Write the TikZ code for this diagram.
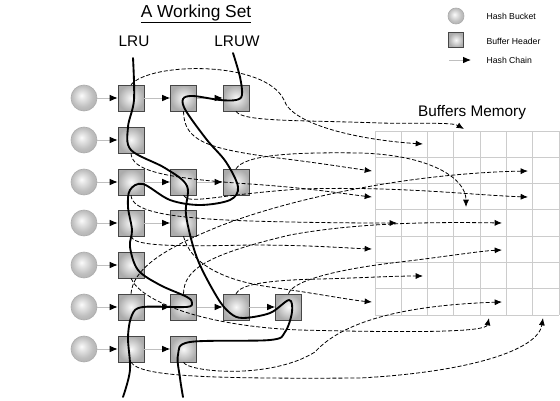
\documentclass[tikz,border=0pt]{standalone}
\usepackage{fontspec}
\setmainfont{Liberation Sans}
\usetikzlibrary{arrows.meta,positioning}

\pgfdeclareradialshading{bucketshade}{\pgfpoint{-5bp}{5bp}}{color(0bp)=(gray!3); color(7bp)=(gray!20); color(20bp)=(gray!50); color(30bp)=(gray!62); color(50bp)=(gray!62)}
\tikzset{
  bucket/.style={circle, minimum size=19.5pt, inner sep=0pt, draw=gray!65, line width=0.5pt, shading=bucketshade},
  header/.style={rectangle, minimum size=19.5pt, inner sep=0pt, draw=gray!55!black, shading=radial, inner color=gray!5, outer color=gray!65},
  chain/.style={draw=gray!50, line width=0.7pt, -{Latex[length=6pt,width=5pt,color=black]}},
  link/.style={dash pattern=on 3pt off 1.5pt, line width=0.6pt, -{Latex[length=5.5pt,width=4.5pt]}},
  walk/.style={line width=1.4pt, line cap=round},
  gridline/.style={draw=gray!40, line width=0.7pt},
}

\begin{document}
\begin{tikzpicture}[x=0.75pt, y=-0.75pt]
\useasboundingbox (0,0) rectangle (560,400);

% titles
\node (title) at (196,14) {\fontsize{13}{15}\selectfont\underline{A Working Set}};
\node (lrulbl) at (134,41) {\fontsize{11.5}{13}\selectfont LRU};
\node (lruwlbl) at (237,41) {\fontsize{11.5}{13}\selectfont LRUW};
\node (memlbl) at (472,113) {\fontsize{11.5}{13}\selectfont Buffers Memory};

% legend
\node[bucket, minimum size=12pt] (legb) at (456,16) {};
\node[header, minimum size=11pt] (legh) at (456,40) {};
\coordinate (lega) at (449,60);
\coordinate (legz) at (471,60);
\draw[chain] (lega) -- (legz);
\node[anchor=west, inner sep=1pt, font=\fontsize{6.5}{8}\selectfont] (legbt) at (485,16) {Hash Bucket};
\node[anchor=west, inner sep=1pt, font=\fontsize{6.5}{8}\selectfont] (leght) at (485,41) {Buffer Header};
\node[anchor=west, inner sep=1pt, font=\fontsize{6.5}{8}\selectfont] (legat) at (485,60) {Hash Chain};

% buffers memory
\foreach \i in {0,...,7} {
  \draw[gridline] (375+\i*26.3,131) -- (375+\i*26.3,315);
  \draw[gridline] (375,131+\i*26.3) -- (559,131+\i*26.3);
}

% hash buckets
\foreach \r/\y in {1/98,2/140,3/182,4/223,5/265,6/307,7/349}
  \node[bucket] (b\r) at (84,\y) {};

% buffer headers
\node[header] (h11) at (131,98) {};
\node[header] (h12) at (183.5,98) {};
\node[header] (h13) at (236,98) {};
\node[header] (h21) at (131,140) {};
\node[header] (h31) at (131,182) {};
\node[header] (h32) at (183.5,182) {};
\node[header] (h33) at (236,182) {};
\node[header] (h41) at (131,223) {};
\node[header] (h42) at (183.5,223) {};
\node[header] (h51) at (131,265) {};
\node[header] (h61) at (131,307) {};
\node[header] (h62) at (183.5,307) {};
\node[header] (h63) at (236,307) {};
\node[header] (h64) at (288.5,307) {};
\node[header] (h71) at (131,349) {};
\node[header] (h72) at (183.5,349) {};

% hash chains
\foreach \r in {1,...,7}
  \draw[chain] (b\r) -- (h\r1);
\draw[chain] (h11) -- (h12);
\draw[chain] (h12) -- (h13);
\draw[chain] (h31) -- (h32);
\draw[chain] (h32) -- (h33);
\draw[chain] (h41) -- (h42);
\draw[chain] (h61) -- (h62);
\draw[chain] (h62) -- (h63);
\draw[chain] (h63) -- (h64);
\draw[chain] (h71) -- (h72);

% buffers pointed to
\coordinate (m1) at (464,129);
\coordinate (m2) at (423,144);
\coordinate (m3) at (372,171);
\coordinate (m4) at (528,171);
\coordinate (m5) at (372,197);
\coordinate (m6) at (528,197);
\coordinate (m7) at (466,207);
\coordinate (m8) at (397,223);
\coordinate (m9) at (502,223);
\coordinate (m10) at (372,249);
\coordinate (m11) at (502,250);
\coordinate (m12) at (423,276);
\coordinate (m13) at (372,302);
\coordinate (m14) at (502,302);
\coordinate (m15) at (489,318);
\coordinate (m16) at (543,318);

% header -> buffer
\draw[link] (h11.north) .. controls (150,62) and (265,60) .. (284,100) .. controls (292,125) and (360,140) .. (m2);
\draw[link] (h13.south) .. controls (242,122) and (300,120) .. (380,123) .. controls (420,124) and (452,122) .. (m1);
\draw[link] (h12.south) .. controls (184,140) and (205,148) .. (270,157) .. controls (320,163) and (350,168) .. (m3);
\draw[link] (h21.south) .. controls (132,170) and (160,178) .. (250,184) .. controls (310,188) and (345,194) .. (m5);
\draw[link] (h31.south) .. controls (132,210) and (160,218) .. (250,221) .. controls (320,223) and (370,223) .. (m8);
\draw[link] (h32.south) .. controls (188,205) and (215,195) .. (300,189) .. controls (400,186) and (470,195) .. (m6);
\draw[link] (h33.north) .. controls (245,155) and (290,152) .. (360,153) .. controls (430,155) and (466,178) .. (m7);
\draw[link] (h41.south) .. controls (134,245) and (160,247) .. (250,245) .. controls (310,245) and (345,248) .. (m10);
\draw[link] (h42.south) .. controls (190,262) and (220,280) .. (270,287) .. controls (320,294) and (350,300) .. (m13);
\draw[link] (h51.south) .. controls (140,300) and (200,326) .. (300,330) .. controls (420,333) and (486,332) .. (m15);
\draw[link] (h61.north) .. controls (133,270) and (160,250) .. (220,226) .. controls (300,195) and (420,173) .. (m4);
\draw[link] (h62.north) .. controls (184,270) and (205,255) .. (290,235) .. controls (360,222) and (440,222) .. (m9);
\draw[link] (h63.north) .. controls (240,284) and (270,280) .. (320,279) .. controls (360,278) and (390,276) .. (m12);
\draw[link] (h64.north) .. controls (292,282) and (330,270) .. (400,262) .. controls (450,256) and (480,251) .. (m11);
\draw[link] (h71.south) .. controls (140,376) and (200,379) .. (360,378) .. controls (470,372) and (538,350) .. (m16);
\draw[link] (h72.south) .. controls (188,372) and (270,380) .. (315,352) .. controls (335,330) and (380,306) .. (m14);

% LRU and LRUW walks
\draw[walk] plot[smooth, tension=0.55] coordinates {(133,58) (134,100) (128,127) (131,150) (165,168) (187,186) (186,215) (197,258) (217,297) (230,313) (243,318) (270,313) (289,300) (292,312) (285,332) (270,340) (190,342) (178,355) (180,378) (183,397)};
\draw[walk] plot[smooth, tension=0.55] coordinates {(233,53) (240,77) (242,95) (236,100) (220,100) (193,96) (183,99) (186,111) (207,140) (226,162) (238,187) (230,200) (200,205) (170,200) (143,184) (130,190) (128,207) (132,230) (130,247) (138,270) (160,285) (187,297) (192,303) (186,307) (143,307) (132,315) (128,337) (130,370) (123,397)};
\end{tikzpicture}
\end{document}
